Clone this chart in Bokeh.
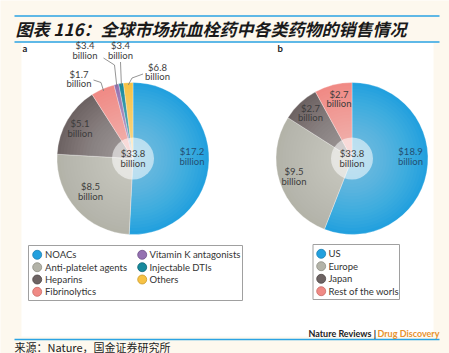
import math
from bokeh.plotting import figure
from bokeh.core.properties import value
from bokeh.embed import file_html
from bokeh.resources import INLINE

# ---------------- data ----------------
drug_classes = ["NOACs", "Anti-platelet agents", "Heparins", "Fibrinolytics",
                "Vitamin K antagonists", "Injectable DTIs", "Others"]
drug_sales = [17.2, 8.5, 5.1, 1.7, 0.34, 0.34, 0.68]
drug_labels = ["$17.2", "$8.5", "$5.1", "$1.7", "$3.4", "$3.4", "$6.8"]  # printed labels

regions = ["US", "Europe", "Japan", "Rest of the worls"]
region_sales = [18.9, 9.5, 2.7, 2.7]
region_labels = ["$18.9", "$9.5", "$2.7", "$2.7"]

total_label = "$33.8"

# ---------------- style ----------------
W, H = 449, 353
def Y(py):
    return H - py

drug_colors = ["#22a0de", "#b3b3a8", "#6d6363", "#f08a85", "#9471b1", "#178a9d", "#f7c244"]
drug_edges = ["#1b7fb3", "#8e8e84", "#4e4646", "#c86a65", "#6d4f88", "#0f6573", "#c99a2c"]
region_colors = [drug_colors[0], drug_colors[1], drug_colors[2], drug_colors[3]]
region_edges = [drug_edges[0], drug_edges[1], drug_edges[2], drug_edges[3]]

FONT = "Lato"
CJK = "Noto Sans CJK SC"

p = figure(width=W, height=H, x_range=(0, W), y_range=(0, H),
           output_backend="svg", toolbar_location=None,
           x_axis_location=None, y_axis_location=None, min_border=0)
p.grid.visible = False
p.outline_line_color = None
p.background_fill_color = "#fdf8ee"
p.border_fill_color = "#fdf8ee"

# white panel and rules
p.quad(left=[21], right=[433], top=[Y(42)], bottom=[Y(336)], fill_color="white", line_color=None)
p.segment(x0=[14, 14, 14], x1=[439, 439, 439], y0=[Y(15.5), Y(41.5), Y(339)],
          y1=[Y(15.5), Y(41.5), Y(339)], line_color="#2aa3e3", line_width=1.5)

# titles
p.text(x=[15], y=[Y(28)], text=["图表 116：全球市场抗血栓药中各类药物的销售情况"],
       text_font=value(CJK), text_font_size="17px", text_font_style="bold italic",
       text_color="#1a1a1a", text_align="left", text_baseline="middle")
p.text(x=[14], y=[Y(346)], text=["来源：Nature，国金证券研究所"],
       text_font=value(CJK), text_font_size="11px", text_color="#222222",
       text_align="left", text_baseline="middle")
p.text(x=[22, 277], y=[Y(47.5), Y(47.5)], text=["a", "b"], text_font=value(FONT),
       text_font_size="9.5px", text_font_style="bold", text_color="#222222",
       text_align="left", text_baseline="middle")
p.text(x=[375.5], y=[Y(333)], text=["Nature Reviews |"], text_font=value(FONT),
       text_font_size="9px", text_font_style="bold", text_color="#222222",
       text_align="right", text_baseline="middle")
p.text(x=[377], y=[Y(333)], text=["Drug Discovery"], text_font=value(FONT),
       text_font_size="9px", text_font_style="bold", text_color="#e8912c",
       text_align="left", text_baseline="middle")

R = 76

def pie(cx, cy, vals, colors):
    tot = sum(vals)
    starts, ends, mids = [], [], []
    c = 0.0
    for v in vals:
        a0 = math.pi / 2 - 2 * math.pi * c / tot
        c += v
        a1 = math.pi / 2 - 2 * math.pi * c / tot
        starts.append(a0); ends.append(a1); mids.append((a0 + a1) / 2)
    p.wedge(x=[cx] * len(vals), y=[Y(cy)] * len(vals), radius=R,
            start_angle=starts, end_angle=ends, direction="clock",
            fill_color=colors, line_color="white", line_alpha=0.5, line_width=0.6)
    # radial lightening toward the centre
    n = 24
    for k in range(1, n):
        p.circle(x=[cx], y=[Y(cy)], radius=R * (1 - k / n), fill_color="white",
                 fill_alpha=0.022, line_color=None)
    p.circle(x=[cx], y=[Y(cy)], radius=21, fill_color="white", fill_alpha=0.55, line_color=None)
    p.text(x=[cx, cx], y=[Y(cy - 5), Y(cy + 4.5)], text=[total_label, "billion"],
           text_font=value(FONT), text_font_size="9.5px", text_color="#3c3c3c",
           text_align="center", text_baseline="middle")
    return mids

def slice_label(x, py, lab, color="#3c3c3c"):
    p.text(x=[x, x], y=[Y(py - 4.8), Y(py + 4.8)], text=[lab, "billion"],
           text_font=value(FONT), text_font_size="9.5px", text_color=color,
           text_align="center", text_baseline="middle")

# ---- pie a ----
ax, ay = 132.5, 158
mids_a = pie(ax, ay, drug_sales, drug_colors)
slice_label(191.5, 156, drug_labels[0], "#234f72")
slice_label(90, 191, drug_labels[1])
slice_label(79.5, 128, drug_labels[2])
# outside labels with leaders
out_pos = {3: (78.5, 78.5), 4: (84.5, 50), 5: (120, 50), 6: (157, 71.5)}
elbows = {3: [(93, 79.5), (100.5, 82)],
          4: [(103, 57.5), (114, 64.5)],
          5: [(120, 61.5)],
          6: [(142.5, 73.5), (131.5, 77.5)]}
xs, ys = [], []
for i in (3, 4, 5, 6):
    ex = ax + R * 0.97 * math.cos(mids_a[i])
    ey = ay - R * 0.97 * math.sin(mids_a[i])
    pts = elbows[i] + [(ex, ey)]
    xs.append([q[0] for q in pts]); ys.append([Y(q[1]) for q in pts])
    slice_label(out_pos[i][0], out_pos[i][1], drug_labels[i])
p.multi_line(xs=xs, ys=ys, line_color="#7a7a7a", line_width=0.8)

# ---- pie b ----
bx, by = 351.5, 158
pie(bx, by, region_sales, region_colors)
slice_label(410, 156, region_labels[0], "#234f72")
slice_label(293.5, 176, region_labels[1])
slice_label(310, 112.5, region_labels[2])
slice_label(338.5, 98.5, region_labels[3])

# ---- legends ----
def legend(box, items, colors, edges, cols):
    l, t, r, b = box
    p.quad(left=[l], right=[r], top=[Y(t)], bottom=[Y(b)], fill_color="white",
           line_color="#a0a0a0", line_width=1)
    for (name, c, e, (cx_, tx, py)) in zip(items, colors, edges, cols):
        p.scatter(x=[cx_], y=[Y(py)], marker="circle", size=9, fill_color=c,
                  line_color=e, line_width=0.8)
        p.text(x=[tx], y=[Y(py)], text=[name], text_font=value(FONT), text_font_size="9.5px",
               text_color="#333333", text_align="left", text_baseline="middle")

rows_a = [254.3, 266.7, 279, 291.3]
pos_a = [(36.7, 44.5, rows_a[i]) for i in range(4)] + [(141.7, 149, rows_a[i]) for i in range(3)]
legend((28, 245, 242, 300), drug_classes, drug_colors, drug_edges, pos_a)

rows_b = [253.3, 265.7, 278.3, 290.7]
pos_b = [(320.7, 328, rows_b[i]) for i in range(4)]
legend((312.5, 244, 399, 299), regions, region_colors, region_edges, pos_b)

open("out.html", "w").write(file_html(p, INLINE))
